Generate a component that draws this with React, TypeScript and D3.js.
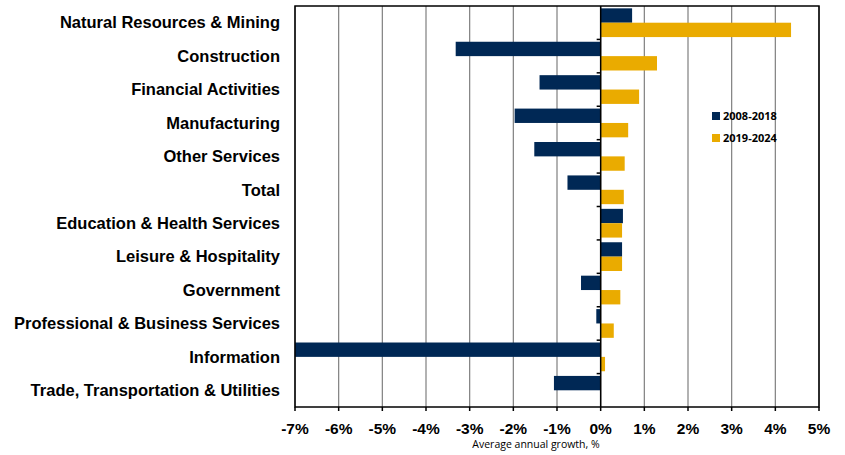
import React from "react";
import * as d3 from "d3";

const categories = [
  "Natural Resources & Mining",
  "Construction",
  "Financial Activities",
  "Manufacturing",
  "Other Services",
  "Total",
  "Education & Health Services",
  "Leisure & Hospitality",
  "Government",
  "Professional & Business Services",
  "Information",
  "Trade, Transportation & Utilities",
];
const series2008 = [0.72, -3.32, -1.4, -1.97, -1.52, -0.76, 0.51, 0.49, -0.45, -0.1, -7.0, -1.07];
const series2019 = [4.36, 1.29, 0.88, 0.63, 0.55, 0.53, 0.49, 0.49, 0.45, 0.3, 0.1, 0.0];
const seriesNames = ["2008-2018", "2019-2024"];
const seriesColors = ["#002855", "#EAAB00"];
const xTicks = [-7, -6, -5, -4, -3, -2, -1, 0, 1, 2, 3, 4, 5];

const W = 845, H = 455;
const L = 295, R = 819, T = 6, B = 407;

export default function App() {
  const x = d3.scaleLinear().domain([-7, 5]).range([L, R]);
  const y = d3.scaleBand<string>().domain(categories).range([T, B]).paddingInner(0).paddingOuter(0);
  const bw = y.bandwidth();
  const pad = bw * 0.07;
  const barH = (bw - 2 * pad) / 2;
  const fmt = (v: number) => `${v}%`;
  const allSeries = [series2008, series2019];

  return (
    <svg width={W} height={H} style={{ position: "absolute", left: 0, top: 0, background: "#fff" }}>
      {/* gridlines */}
      {xTicks.map((t) => (
        <line key={"g" + t} x1={x(t)} x2={x(t)} y1={T} y2={B} stroke="#7f7f7f" strokeWidth={1.2} />
      ))}
      {/* bars */}
      {allSeries.map((s, si) =>
        s.map((v, i) => {
          const y0 = (y(categories[i]) as number) + pad + si * barH;
          const x0 = Math.min(x(0), x(v));
          const w = Math.abs(x(v) - x(0));
          return (
            <rect key={`b${si}-${i}`} x={x0} y={y0} width={w} height={barH} fill={seriesColors[si]} />
          );
        })
      )}
      {/* border */}
      <rect x={L} y={T} width={R - L} height={B - T} fill="none" stroke="#000" strokeWidth={1.5} />
      {/* zero axis */}
      <line x1={x(0)} x2={x(0)} y1={T} y2={B} stroke="#000" strokeWidth={1.5} />
      {/* category ticks on zero axis */}
      {categories.slice(1).map((c) => (
        <line key={"ct" + c} x1={x(0) - 4} x2={x(0)} y1={y(c) as number} y2={y(c) as number} stroke="#000" strokeWidth={1.5} />
      ))}
      {/* x ticks */}
      {xTicks.map((t) => (
        <line key={"xt" + t} x1={x(t)} x2={x(t)} y1={B} y2={B + 4} stroke="#000" strokeWidth={1.5} />
      ))}
      {xTicks.map((t) => (
        <text key={"xl" + t} x={x(t)} y={434} textAnchor="middle" fontFamily="Liberation Sans, Arial, sans-serif" fontWeight="bold" fontSize={15.5} fill="#000">
          {fmt(t)}
        </text>
      ))}
      <text x={536} y={448} textAnchor="middle" fontFamily="Open Sans, sans-serif" fontSize={10.5} fill="#000">
        Average annual growth, %
      </text>
      {/* category labels */}
      {categories.map((c) => (
        <text key={"cl" + c} x={280} y={(y(c) as number) + bw / 2} dy="0.35em" textAnchor="end" fontFamily="Liberation Sans, Arial, sans-serif" fontWeight="bold" fontSize={16.5} fill="#000">
          {c}
        </text>
      ))}
      {/* legend */}
      {seriesNames.map((n, i) => (
        <g key={"lg" + n} transform={`translate(712, ${112 + i * 22})`}>
          <rect x={0} y={0} width={8} height={8} fill={seriesColors[i]} />
          <text x={11} y={4} dy="0.35em" fontFamily="Open Sans, sans-serif" fontWeight="bold" fontSize={11} fill="#000">
            {n}
          </text>
        </g>
      ))}
    </svg>
  );
}
